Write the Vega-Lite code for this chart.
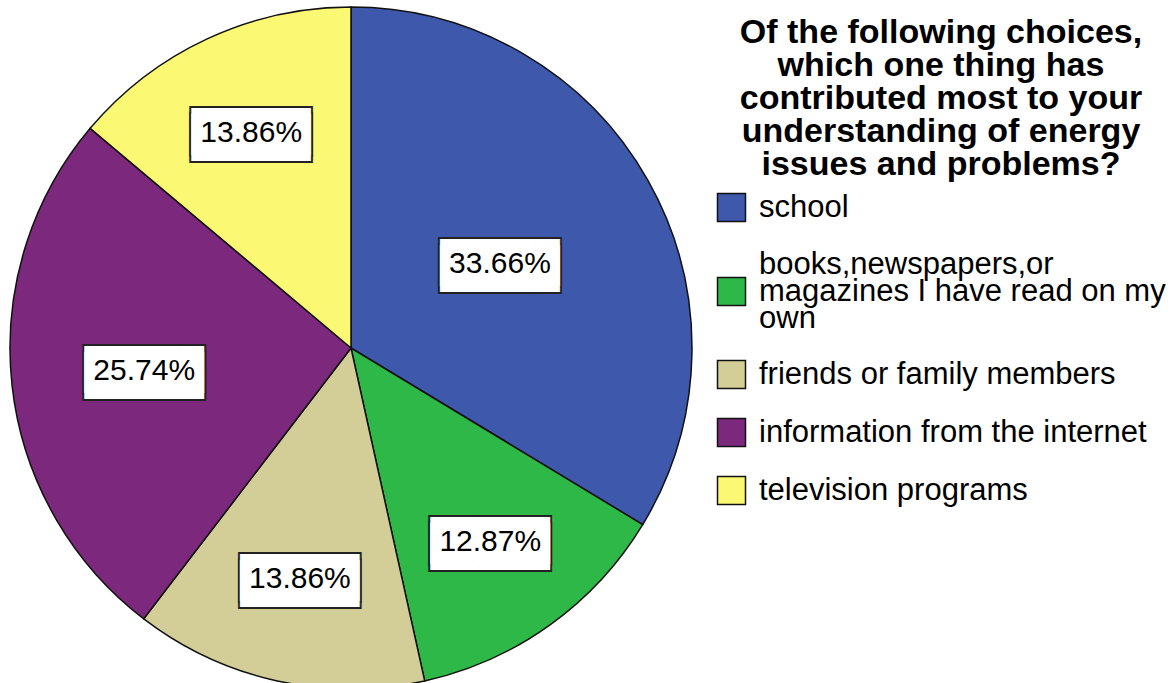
{
  "$schema": "https://vega.github.io/schema/vega-lite/v6.json",
  "width": 702,
  "height": 696,
  "padding": 0,
  "background": "white",
  "data": {
    "values": [
      {"cat": "school", "pct": 0.3366, "idx": 1},
      {"cat": "books,newspapers,or magazines I have read on my own", "pct": 0.1287, "idx": 2},
      {"cat": "friends or family members", "pct": 0.1386, "idx": 3},
      {"cat": "information from the internet", "pct": 0.2574, "idx": 4},
      {"cat": "television programs", "pct": 0.1386, "idx": 5}
    ]
  },
  "encoding": {
    "theta": {"field": "pct", "type": "quantitative", "stack": true},
    "order": {"field": "idx", "type": "quantitative"}
  },
  "layer": [
    {
      "mark": {"type": "arc", "outerRadius": 341, "stroke": "#111", "strokeWidth": 1.5},
      "encoding": {
        "color": {
          "field": "cat",
          "type": "nominal",
          "scale": {
            "domain": ["school", "books,newspapers,or magazines I have read on my own", "friends or family members", "information from the internet", "television programs"],
            "range": ["#3E58AC", "#2EB848", "#D3CE97", "#7C287D", "#FBF873"]
          },
          "legend": {
            "orient": "none",
            "legendX": 716,
            "legendY": 16,
            "title": ["Of the following choices,", "which one thing has", "contributed most to your", "understanding of energy", "issues and problems?"],
            "titleFont": "Liberation Sans",
            "titleFontSize": 34,
            "titleFontWeight": "bold",
            "titleLineHeight": 33,
            "titleColor": "#000",
            "titleAlign": "center",
            "titleAnchor": "middle",
            "titleLimit": 0,
            "titlePadding": 10,
            "labelFont": "Liberation Sans",
            "labelFontSize": 31,
            "labelColor": "#000",
            "labelLimit": 0,
            "labelOffset": 12,
            "labelExpr": "datum.label === 'books,newspapers,or magazines I have read on my own' ? ['books,newspapers,or', 'magazines I have read on my', 'own'] : datum.label",
            "encoding": {
              "labels": {
                "lineHeight": {"value": 27},
                "dy": {"condition": {"test": "datum.value === 'books,newspapers,or magazines I have read on my own'", "value": -27}, "value": 0}
              }
            },
            "symbolType": "square",
            "symbolSize": 784,
            "symbolStrokeColor": "#111",
            "symbolStrokeWidth": 1.5,
            "rowPadding": 23,
            "padding": 0
          }
        }
      }
    },
    {
      "mark": {"type": "text", "font": "DejaVu Sans Mono", "fontSize": 39.5, "lineHeight": 6, "color": "#222", "stroke": "#222", "strokeWidth": 4},
      "encoding": {
        "radius": {"field": "pct", "type": "quantitative", "scale": {"type": "linear", "zero": false, "domain": [0.1287, 0.2574, 0.3366], "range": [239, 208, 171]}},
        "text": {"value": ["█████", "█████"]}
      }
    },
    {
      "mark": {"type": "text", "font": "DejaVu Sans Mono", "fontSize": 39.5, "lineHeight": 6, "color": "#ffffff"},
      "encoding": {
        "radius": {"field": "pct", "type": "quantitative"},
        "text": {"value": ["█████", "█████"]}
      }
    },
    {
      "mark": {"type": "text", "font": "Liberation Sans", "fontSize": 30, "color": "#000"},
      "encoding": {
        "radius": {"field": "pct", "type": "quantitative"},
        "text": {"field": "pct", "type": "quantitative", "format": ".2%"}
      }
    }
  ],
  "config": {"view": {"stroke": null}}
}
